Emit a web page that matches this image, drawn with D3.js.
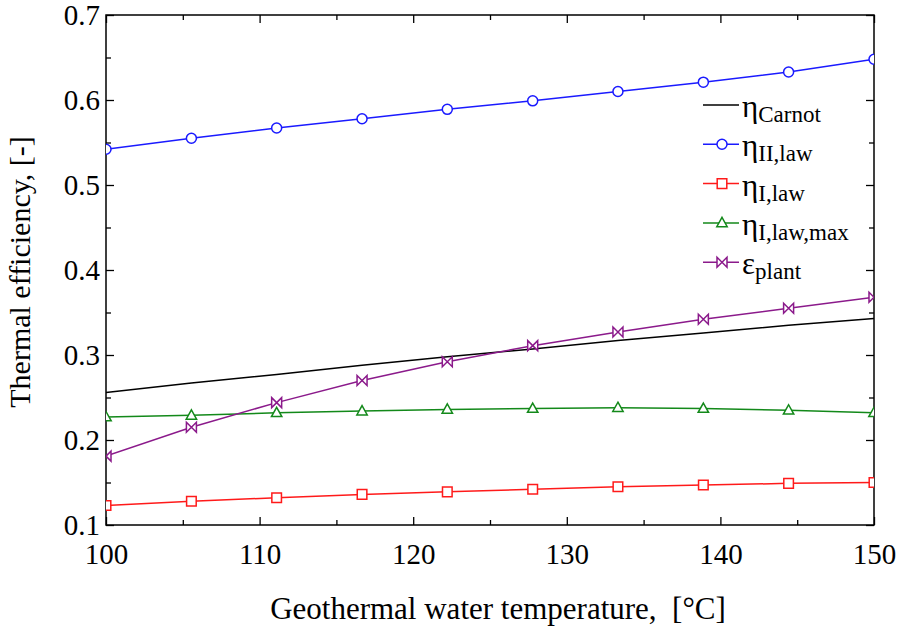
<!DOCTYPE html>
<html lang="en">
<head>
<meta charset="UTF-8">
<title>Thermal efficiency vs geothermal water temperature</title>
<script src="https://d3js.org/d3.v7.min.js"></script>
<style>
  body { margin: 0; background: #fff; }
  svg text { font-family: "Liberation Serif", Times, "DejaVu Serif", serif !important; fill: #000; }
</style>
</head>
<body>
<div id="chart"></div>
<script>
// values
var temps       = [100, 105.56, 111.11, 116.67, 122.22, 127.78, 133.33, 138.89, 144.44, 150];
var etaCarnot   = [0.256, 0.267, 0.277, 0.288, 0.298, 0.307, 0.317, 0.326, 0.335, 0.343];
var etaIIlaw    = [0.542, 0.555, 0.567, 0.578, 0.589, 0.599, 0.610, 0.621, 0.633, 0.648];
var etaIlaw     = [0.123, 0.128, 0.132, 0.136, 0.139, 0.142, 0.145, 0.147, 0.149, 0.150];
var etaIlawMax  = [0.227, 0.229, 0.232, 0.234, 0.236, 0.237, 0.238, 0.237, 0.235, 0.232];
var epsPlant    = [0.181, 0.215, 0.244, 0.270, 0.292, 0.311, 0.327, 0.342, 0.355, 0.368];

var xMajor = [100, 110, 120, 130, 140, 150];
var xMinor = [105, 115, 125, 135, 145];
var yMajor = [0.1, 0.2, 0.3, 0.4, 0.5, 0.6, 0.7];
var yMinor = [0.15, 0.25, 0.35, 0.45, 0.55, 0.65];

var series = [
  {sym: "η", sub: "Carnot",       values: etaCarnot,  color: "#000000", marker: null},
  {sym: "η", sub: "II,law",       values: etaIIlaw,   color: "#1a1aff", marker: "circle"},
  {sym: "η", sub: "I,law",        values: etaIlaw,    color: "#ff1a1a", marker: "square"},
  {sym: "η", sub: "I,law,max",    values: etaIlawMax, color: "#13891a", marker: "triangle"},
  {sym: "ε", sub: "plant",        values: epsPlant,   color: "#8b1a8b", marker: "bowtie"}
];

var serif = "'Liberation Serif', Times, 'DejaVu Serif', serif";
var width = 897, height = 628;
var plot = {left: 106, right: 874, top: 15, bottom: 525};

var svg = d3.select("#chart").append("svg")
  .attr("width", width)
  .attr("height", height)
  .attr("font-family", serif);

var x = d3.scaleLinear().domain([100, 150]).range([plot.left, plot.right]);
var y = d3.scaleLinear().domain([0.1, 0.7]).range([plot.bottom, plot.top]);

var markerPath = {
  circle: "M5,0A5,5 0 1,1 -5,0A5,5 0 1,1 5,0Z",
  square: "M-4.8,-4.8H4.8V4.8H-4.8Z",
  triangle: "M0,-5.5L5.2,3.8H-5.2Z",
  bowtie: "M-5,-5L5,5V-5L-5,5Z"
};

svg.append("clipPath").attr("id", "clip")
  .append("rect")
  .attr("x", plot.left).attr("y", plot.top)
  .attr("width", plot.right - plot.left)
  .attr("height", plot.bottom - plot.top);

// axes: ticks point inward on all four sides
function tickAxis(axis, values, size, pos, labels, fmt) {
  var g = svg.append("g")
    .attr("transform", pos)
    .call(axis.tickValues(values).tickSize(-size).tickSizeOuter(0)
      .tickFormat(labels ? fmt : ""));
  g.attr("font-family", serif);
  g.select(".domain").remove();
  g.selectAll(".tick line").attr("stroke", "#000").attr("stroke-width", 1.3);
  return g;
}

var xb = tickAxis(d3.axisBottom(x), xMajor, 8, "translate(0," + plot.bottom + ")", true, d3.format("d"));
xb.selectAll("text").attr("font-size", 29).attr("y", 39).attr("dy", 0);
tickAxis(d3.axisBottom(x), xMinor, 5, "translate(0," + plot.bottom + ")", false);
tickAxis(d3.axisTop(x), xMajor, 8, "translate(0," + plot.top + ")", false);
tickAxis(d3.axisTop(x), xMinor, 5, "translate(0," + plot.top + ")", false);

var yl = tickAxis(d3.axisLeft(y), yMajor, 8, "translate(" + plot.left + ",0)", true, d3.format(".1f"));
yl.selectAll("text").attr("font-size", 29).attr("x", -6).attr("dy", "0.34em");
tickAxis(d3.axisLeft(y), yMinor, 5, "translate(" + plot.left + ",0)", false);
tickAxis(d3.axisRight(y), yMajor, 8, "translate(" + plot.right + ",0)", false);
tickAxis(d3.axisRight(y), yMinor, 5, "translate(" + plot.right + ",0)", false);

svg.append("rect")
  .attr("x", plot.left).attr("y", plot.top)
  .attr("width", plot.right - plot.left)
  .attr("height", plot.bottom - plot.top)
  .attr("fill", "none").attr("stroke", "#000").attr("stroke-width", 1.5);

// lines and markers
var line = d3.line()
  .x(function(d, i) { return x(temps[i]); })
  .y(function(d) { return y(d); });

var plotArea = svg.append("g").attr("clip-path", "url(#clip)");

series.forEach(function(s) {
  plotArea.append("path")
    .datum(s.values)
    .attr("fill", "none")
    .attr("stroke", s.color)
    .attr("stroke-width", 1.5)
    .attr("d", line);
});

series.forEach(function(s) {
  if (!s.marker) return;
  plotArea.selectAll(null)
    .data(s.values)
    .enter().append("path")
    .attr("transform", function(d, i) { return "translate(" + x(temps[i]) + "," + y(d) + ")"; })
    .attr("d", markerPath[s.marker])
    .attr("fill", "#fff")
    .attr("stroke", s.color)
    .attr("stroke-width", 1.5);
});

// legend
var legend = svg.append("g").attr("transform", "translate(703,105)");
series.forEach(function(s, i) {
  var row = legend.append("g").attr("transform", "translate(0," + (i * 39.3) + ")");
  row.append("line")
    .attr("x1", 0).attr("x2", 36)
    .attr("stroke", s.color).attr("stroke-width", 1.5);
  if (s.marker) {
    row.append("path")
      .attr("transform", "translate(19,0)")
      .attr("d", markerPath[s.marker])
      .attr("fill", "#fff")
      .attr("stroke", s.color)
      .attr("stroke-width", 1.5);
  }
  var t = row.append("text").attr("x", 39).attr("y", 12);
  t.append("tspan").attr("font-size", 31).text(s.sym);
  t.append("tspan").attr("font-size", 23).attr("dy", 5).text(s.sub);
});

// axis titles
svg.append("text")
  .attr("x", 498).attr("y", 619)
  .attr("text-anchor", "middle")
  .attr("font-size", 31)
  .style("white-space", "pre")
  .text("Geothermal water temperature,  [°C]");

svg.append("text")
  .attr("transform", "translate(30,272) rotate(-90)")
  .attr("text-anchor", "middle")
  .attr("font-size", 30)
  .text("Thermal efficiency, [-]");
</script>
</body>
</html>
